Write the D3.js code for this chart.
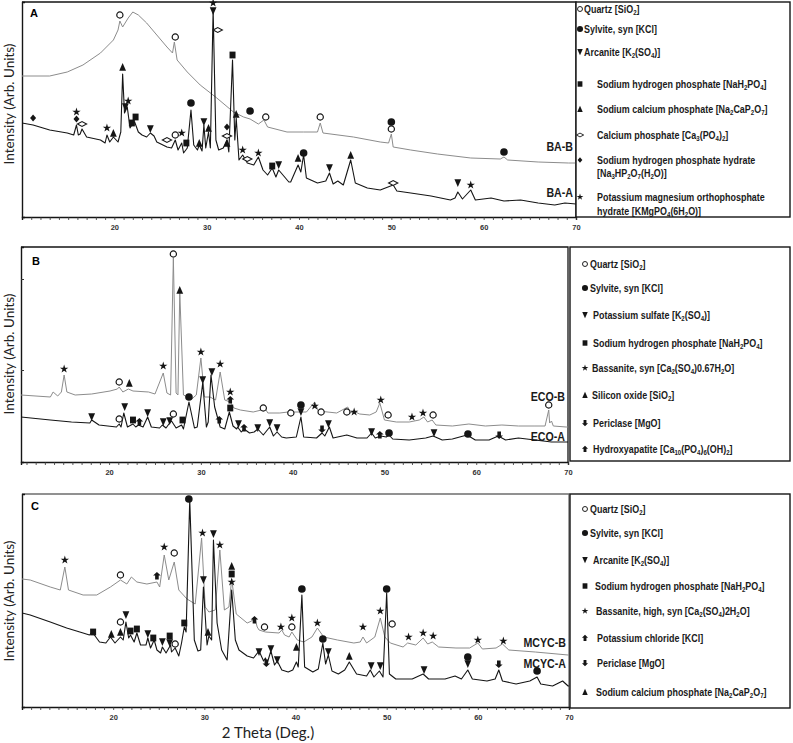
<!DOCTYPE html>
<html>
<head>
<meta charset="utf-8">
<script src="https://cdn.jsdelivr.net/npm/d3@7"></script>
<style>
  body { margin: 0; background: #fff; }
  svg { display: block; }
</style>
</head>
<body>
<div id="chart"></div>
<script>
// ---- XRD patterns, [2theta, intensity (arb. units)] ----
const baA = [[10.0,94],[11.2,92],[13.0,87],[14.9,84],[15.6,82],[15.9,92],[16.1,82],[16.3,83],[16.5,88],[17.0,80],[18.5,77],[19.0,74],[19.2,82],[19.5,75],[19.9,80],[20.4,75],[20.7,85],[20.9,143],[21.1,104],[21.4,110],[21.7,89],[21.9,92],[22.2,95],[22.6,85],[23.0,82],[23.5,80],[23.9,84],[24.3,81],[24.6,75],[25.7,70],[26.2,69],[26.6,77],[26.9,67],[27.3,74],[27.5,64],[27.9,69],[28.3,107],[28.6,72],[29.0,67],[29.2,72],[29.5,66],[29.7,92],[29.9,69],[30.2,85],[30.4,69],[30.7,207],[31.0,77],[31.3,67],[31.8,69],[32.2,77],[32.4,65],[32.8,157],[33.05,77],[33.2,99],[33.5,57],[33.9,62],[34.4,54],[35.1,52],[35.6,60],[36.1,47],[36.6,42],[37.1,49],[37.5,40],[37.8,47],[38.9,35],[39.1,35],[39.9,52],[40.2,45],[40.5,62],[40.8,39],[42.0,34],[42.9,36],[43.3,44],[43.7,33],[44.2,36],[44.8,32],[45.6,57],[46.1,34],[47.4,29],[48.8,27],[50.2,32],[50.6,26],[52.1,24],[54.3,21],[56.4,17],[56.9,19],[57.2,25],[57.7,18],[58.6,27],[59.1,17],[60.8,19],[62.2,16],[64.0,17],[65.9,14],[67.7,12],[68.8,14],[70,13]]
const baB = [[10.0,141],[13.0,141],[14.9,145],[16.6,152],[18.5,164],[19.9,177],[20.4,187],[20.6,196],[20.9,190],[21.5,199],[22.0,205],[22.6,202],[23.5,194],[24.6,182],[25.7,170],[26.3,164],[26.5,175],[26.8,157],[27.9,145],[29.3,132],[31.1,119],[32.9,105],[34.0,100],[34.7,98],[35.6,93],[36.2,97],[36.6,90],[38.7,85],[40.5,85],[42.0,85],[42.3,94],[42.6,84],[45.9,80],[48.8,75],[49.7,74],[50.0,83],[50.2,70],[52.1,67],[55.0,63],[58.6,59],[61.8,58],[62.2,60],[62.6,57],[65.9,55],[69.2,54],[70,54]]
const ecoA = [[10.4,45],[13.6,42],[15.9,40],[17.9,39],[18.1,42],[18.9,37],[20.8,35],[21.1,38],[21.3,35],[21.6,49],[22.0,35],[22.6,38],[22.9,35],[23.2,37],[23.7,35],[24.2,45],[24.6,35],[25.5,34],[25.8,37],[26.2,34],[26.6,39],[26.8,41],[27.3,34],[27.9,37],[28.1,33],[28.7,60],[29.3,34],[29.6,35],[30.2,79],[30.6,35],[30.8,40],[31.1,87],[31.5,55],[32.1,35],[32.6,33],[33.1,50],[33.5,36],[33.9,33],[34.0,35],[34.4,30],[34.7,33],[35.3,29],[35.8,30],[36.2,33],[36.8,27],[37.5,35],[37.9,26],[38.3,30],[38.8,25],[39.3,24],[40.4,25],[40.9,45],[41.2,25],[42.6,24],[43.2,29],[43.5,26],[44.0,35],[44.4,24],[45.9,27],[47.0,24],[48.1,24],[48.6,29],[49.0,24],[49.6,26],[50.2,25],[50.5,27],[50.9,23],[52.7,22],[54.5,24],[55.3,26],[56.3,22],[57.4,23],[59.0,27],[59.9,22],[61.4,22],[62.4,26],[63.2,22],[64.6,24],[66.4,22],[68.2,20],[69.8,20],[70,20]]
const ecoB = [[10.4,67],[13.6,65],[13.9,70],[14.4,66],[14.8,70],[15.1,87],[15.4,70],[16.3,67],[18.1,68],[20.1,71],[20.9,73],[21.1,75],[21.5,70],[22.1,73],[22.6,71],[24.3,70],[25.0,68],[25.9,89],[26.3,69],[26.7,67],[27.0,204],[27.3,69],[27.5,67],[27.7,170],[28.1,67],[29.0,63],[29.5,67],[30.0,104],[30.4,65],[31.0,65],[31.6,62],[32.1,90],[32.6,62],[33.2,60],[33.6,54],[34.3,52],[35.7,50],[36.6,52],[36.9,55],[37.3,49],[38.6,49],[39.5,50],[39.7,53],[40.0,50],[41.5,50],[42.4,60],[42.8,51],[44.8,49],[46.0,55],[46.3,49],[46.6,51],[47.3,48],[48.4,47],[49.1,50],[49.5,59],[50.0,42],[51.3,40],[52.7,40],[53.8,42],[54.3,45],[54.7,40],[55.2,42],[55.6,37],[57.4,36],[59.2,38],[61.0,36],[62.8,37],[64.6,36],[66.4,36],[67.5,36],[67.9,52],[68.0,39],[68.2,41],[68.4,36],[69.8,35],[70,35]]
const mcycA = [[10.0,94],[10.9,92],[13.1,85],[14.9,79],[16.7,74],[17.4,72],[17.7,75],[18.5,65],[19.2,64],[19.7,70],[20.2,64],[20.8,70],[21.1,67],[21.4,85],[21.7,69],[21.9,72],[22.3,65],[22.6,74],[23.0,62],[23.6,62],[23.8,69],[24.1,59],[24.5,67],[24.8,57],[25.2,54],[25.4,60],[25.8,54],[26.3,62],[26.4,55],[26.8,59],[27.2,51],[27.5,64],[27.8,80],[28.0,75],[28.4,207],[28.9,67],[29.3,56],[29.6,57],[29.9,120],[30.3,62],[30.5,71],[30.8,67],[31.0,167],[31.4,84],[31.9,57],[32.5,47],[33.0,117],[33.4,67],[33.8,57],[34.7,51],[35.4,49],[36.0,56],[36.5,46],[36.7,49],[36.9,44],[37.3,56],[37.7,42],[38.0,46],[38.5,37],[39.2,35],[39.7,37],[40.1,45],[40.3,40],[40.7,112],[41.0,40],[41.9,35],[42.5,38],[43.0,64],[43.3,43],[43.6,52],[44.0,36],[44.7,33],[45.4,37],[45.9,45],[46.7,33],[47.8,31],[48.2,37],[48.6,30],[49.2,36],[49.6,30],[50.0,114],[50.3,33],[51.0,28],[52.8,28],[54.0,33],[54.6,28],[56.4,28],[57.5,31],[58.2,28],[58.9,37],[59.4,28],[61.0,26],[61.9,28],[62.3,37],[62.7,26],[64.2,23],[65.7,26],[66.5,30],[66.9,23],[68.2,21],[69.3,26],[69.9,21],[70,21]]
const mcycB = [[10.0,128],[10.9,127],[13.1,120],[14.2,117],[14.7,140],[15.1,117],[16.7,112],[18.2,112],[19.7,120],[20.8,127],[21.5,123],[22.0,130],[22.6,125],[23.7,123],[24.8,125],[25.1,120],[25.6,152],[26.1,127],[26.7,145],[27.2,117],[28.1,108],[29.0,103],[29.7,169],[30.1,100],[30.5,95],[31.2,97],[31.7,157],[32.2,97],[32.7,100],[33.0,128],[33.5,93],[34.7,84],[35.2,86],[35.5,90],[35.8,80],[36.0,77],[36.7,75],[38.2,74],[38.5,77],[38.8,72],[39.3,70],[39.6,75],[40.2,67],[40.9,65],[41.8,70],[42.4,79],[43.1,70],[44.6,67],[46.4,64],[47.1,65],[47.4,70],[47.8,64],[48.7,70],[49.3,89],[49.8,70],[50.4,64],[51.8,60],[52.3,64],[53.2,62],[54.0,69],[54.5,63],[55.0,65],[55.7,60],[57.6,59],[59.1,59],[60.0,64],[60.5,58],[62.0,59],[62.7,63],[63.4,57],[66.3,55],[69.9,52],[70,52]]

// ---- phase markers [2theta, intensity, symbol] ----
// Q quartz, S sylvite, D down tri, U up tri, Sq square, L open lens, Di filled diamond, St star, AU arrow up, AD arrow down
const markA = [[20.6,202,"Q"],[26.6,180,"Q"],[30.7,214,"St"],[30.7,206,"D"],[31.2,187,"L"],[32.8,162,"Sq"],[20.9,150,"U"],[21.5,116,"St"],[21.2,110,"D"],[28.3,114,"S"],[34.7,106,"S"],[36.4,100,"Q"],[15.9,105,"St"],[15.9,98,"Di"],[16.5,93,"L"],[11.2,99,"Di"],[19.2,89,"St"],[19.9,84,"U"],[21.9,94,"Sq"],[22.3,100,"Sq"],[23.9,88,"D"],[25.7,77,"L"],[26.6,82,"Q"],[27.3,84,"St"],[27.8,74,"Sq"],[29.2,74,"U"],[29.7,95,"D"],[30.2,89,"U"],[33.2,103,"U"],[32.2,90,"Di"],[32.2,81,"L"],[32.2,74,"U"],[33.9,67,"St"],[34.4,58,"L"],[35.6,64,"St"],[37.1,51,"Sq"],[37.8,52,"D"],[42.3,100,"Q"],[50.0,95,"S"],[50.0,88,"Q"],[62.2,65,"S"],[39.9,59,"U"],[40.5,64,"S"],[43.3,49,"D"],[45.6,62,"U"],[50.2,34,"L"],[57.2,34,"D"],[58.6,32,"St"]]
const markB = [[15.1,93,"St"],[21.1,80,"Q"],[22.2,79,"U"],[25.9,96,"St"],[27.0,208,"Q"],[27.7,172,"U"],[30.0,110,"St"],[32.1,98,"St"],[31.2,90,"D"],[30.2,82,"D"],[28.7,65,"S"],[33.2,70,"St"],[33.2,62,"AU"],[33.2,54,"Sq"],[36.8,54,"Q"],[39.8,49,"Q"],[18.1,45,"D"],[21.1,43,"Q"],[21.7,55,"D"],[22.6,42,"Sq"],[23.3,40,"AU"],[24.2,49,"D"],[25.9,40,"D"],[26.6,41,"D"],[27.0,48,"Q"],[28.0,42,"Sq"],[32.0,42,"AU"],[34.1,38,"D"],[34.7,34,"AU"],[36.2,34,"D"],[37.5,39,"D"],[38.3,34,"D"],[40.9,57,"S"],[40.9,50,"D"],[42.4,56,"St"],[43.1,50,"Q"],[45.9,50,"Q"],[46.7,50,"St"],[49.6,62,"St"],[50.4,47,"Q"],[53.0,45,"St"],[54.2,49,"St"],[55.3,47,"Q"],[67.9,57,"Q"],[43.2,33,"AD"],[43.9,38,"D"],[48.6,30,"D"],[49.5,27,"AU"],[50.5,29,"S"],[55.4,29,"D"],[59.1,28,"S"],[62.5,27,"AD"]]
const markC = [[14.7,147,"St"],[20.8,132,"Q"],[24.8,131,"AU"],[25.6,160,"St"],[26.7,154,"Q"],[28.3,208,"S"],[29.8,174,"St"],[31.0,173,"D"],[31.7,162,"St"],[33.0,141,"U"],[33.0,133,"Sq"],[33.0,125,"St"],[29.9,127,"D"],[30.4,75,"U"],[27.8,84,"Sq"],[26.8,63,"Q"],[26.2,71,"Sq"],[26.2,64,"D"],[25.4,65,"D"],[24.4,69,"Sq"],[23.8,73,"D"],[22.6,78,"Sq"],[21.9,76,"Sq"],[21.4,92,"D"],[20.8,75,"U"],[20.8,85,"Q"],[19.8,73,"U"],[17.8,75,"Sq"],[35.5,87,"AU"],[36.6,80,"Q"],[38.4,80,"St"],[36.0,55,"D"],[36.8,44,"AD"],[37.3,58,"D"],[38.0,47,"D"],[39.6,89,"St"],[39.6,80,"Q"],[42.4,84,"St"],[47.4,80,"St"],[49.3,96,"St"],[50.6,83,"Q"],[40.7,118,"S"],[50.0,118,"S"],[52.4,70,"St"],[54.0,74,"St"],[55.1,71,"St"],[60.0,67,"St"],[62.8,66,"St"],[40.1,60,"U"],[43.0,68,"S"],[43.6,55,"D"],[45.9,51,"U"],[48.3,41,"D"],[49.3,41,"D"],[54.1,37,"D"],[58.9,50,"S"],[58.9,43,"D"],[62.3,43,"AD"],[66.5,36,"S"]]

// ---- legends (symbol, lines of text; _{..} = subscript) ----
const legendA = [["Q",["Quartz [SiO_{2}]"]],["S",["Sylvite, syn [KCl]"]],["D",["Arcanite [K_{2}(SO_{4})]"]],["Sq",["Sodium hydrogen phosphate [NaH_{2}PO_{4}]"]],["U",["Sodium calcium phosphate [Na_{2}CaP_{2}O_{7}]"]],["L",["Calcium phosphate [Ca_{3}(PO_{4})_{2}]"]],["Di",["Sodium hydrogen phosphate hydrate","[Na_{3}HP_{2}O_{7}(H_{2}O)]"]],["St",["Potassium magnesium orthophosphate","hydrate [KMgPO_{4}(6H_{2}O)]"]]]
const legendB = [["Q",["Quartz [SiO_{2}]"]],["S",["Sylvite, syn [KCl]"]],["D",["Potassium sulfate [K_{2}(SO_{4})]"]],["Sq",["Sodium hydrogen phosphate [NaH_{2}PO_{4}]"]],["St",["Bassanite, syn [Ca_{2}(SO_{4})0.67H_{2}O]"]],["U",["Silicon oxide [SiO_{2}]"]],["AD",["Periclase [MgO]"]],["AU",["Hydroxyapatite [Ca_{10}(PO_{4})_{6}(OH)_{2}]"]]]
const legendC = [["Q",["Quartz [SiO_{2}]"]],["S",["Sylvite, syn [KCl]"]],["D",["Arcanite [K_{2}(SO_{4})]"]],["Sq",["Sodium hydrogen phosphate [NaH_{2}PO_{4}]"]],["St",["Bassanite, high, syn [Ca_{2}(SO_{4})2H_{2}O]"]],["AU",["Potassium chloride [KCl]"]],["AD",["Periclase [MgO]"]],["U",["Sodium calcium phosphate [Na_{2}CaP_{2}O_{7}]"]]]

const W = 793, H = 743
const black = "#151515", grey = "#8c8c8c"
const bold = "'Liberation Sans', Arial, sans-serif"

// panel layout in page pixels
const panels = [
  { id: "A", left: 22, right: 576, top: 2, bottom: 217, x0: 10, frame: black,
    series: [[baB, grey, "BA-B", 151], [baA, black, "BA-A", 197]], marks: markA,
    legend: legendA, lg: { left: 576, top: 2, bottom: 217, symX: 580, textX: [584,584,584,597,597,597,597,597], rows: [[9],[29],[52],[84],[109],[135],[160,173],[197,211]] },
    yTitle: 104, letter: [30, 17] },
  { id: "B", left: 21, right: 568, top: 247, bottom: 462, x0: 10.4, frame: black, yTicks: [92, 183],
    series: [[ecoB, grey, "ECO-B", 401], [ecoA, black, "ECO-A", 441]], marks: markB,
    legend: legendB, lg: { left: 570, top: 247, bottom: 461, symX: 585, textX: [590,590,593,593,592,592,593,593], rows: [[264],[288],[315],[343],[368],[395],[423],[449]] },
    yTitle: 354, letter: [32, 265] },
  { id: "C", left: 22, right: 569, top: 494, bottom: 707, x0: 10, frame: "#6e6e6e",
    series: [[mcycB, grey, "MCYC-B", 647], [mcycA, black, "MCYC-A", 668]], marks: markC,
    legend: legendC, lg: { left: 570, top: 494, bottom: 708, symX: 585, textX: [590,590,593,595,596,597,597,596], rows: [[509],[533],[560],[586],[611],[638],[663],[692]] },
    yTitle: 601, letter: [31, 510] }
]

const svg = d3.select("#chart").append("svg")
  .attr("width", W)
  .attr("height", H)
  .style("font-family", "Lato, sans-serif")

const paths = {
  D: "M-3.4,-3.8L3.4,-3.8L0,4Z",
  U: "M-3.4,3.8L3.4,3.8L0,-4Z",
  Sq: "M-3,-3.4H3V3.4H-3Z",
  L: "M-4.6,0L0,-2.4L4.6,0L0,2.4Z",
  Di: "M0,-3.4L3,0L0,3.4L-3,0Z",
  AU: "M0,-4L3.8,-0.4L1.8,-0.4L1.8,3.6L-1.8,3.6L-1.8,-0.4L-3.8,-0.4Z",
  AD: "M0,4L3.8,0.4L1.8,0.4L1.8,-3.6L-1.8,-3.6L-1.8,0.4L-3.8,0.4Z",
  St: d3.symbol(d3.symbolStar, 22)()
}

function drawSym(g, code, x, y, k) {
  const t = "translate(" + x + "," + y + ") scale(" + k + ")"
  if (code === "Q") {
    g.append("circle").attr("transform", t).attr("r", 3.1)
      .attr("fill", "#fff").attr("stroke", black).attr("stroke-width", 1.2)
  } else if (code === "S") {
    g.append("circle").attr("transform", t).attr("r", 3.8).attr("fill", black)
  } else if (code === "L") {
    g.append("path").attr("transform", t).attr("d", paths.L)
      .attr("fill", "#fff").attr("stroke", black).attr("stroke-width", 1.1)
  } else {
    g.append("path").attr("transform", t).attr("d", paths[code]).attr("fill", black)
  }
}

// bold, narrowed text with _{..} subscripts
function richText(g, str, x, y, size) {
  const t = g.append("text")
    .attr("transform", "translate(" + x + "," + y + ") scale(0.86,1)")
    .attr("font-family", bold)
    .attr("font-size", size).attr("font-weight", 700).attr("fill", "#1a1a1a")
  let sub = false
  str.split(/(_\{[^}]*\})/).filter(s => s.length).forEach(part => {
    if (part.startsWith("_{")) {
      t.append("tspan").attr("dy", sub ? 0 : 2.5).attr("font-size", size * 0.68).text(part.slice(2, -1))
      sub = true
    } else {
      t.append("tspan").attr("dy", sub ? -2.5 : 0).text(part)
      sub = false
    }
  })
}

panels.forEach(p => {
  const x = d3.scaleLinear().domain([p.x0, 70]).range([p.left, p.right])
  const y = d3.scaleLinear().domain([0, p.bottom - p.top]).range([p.bottom, p.top])
  const g = svg.append("g").classed("panel", true)

  g.append("clipPath").attr("id", "clip" + p.id)
    .append("rect").attr("x", p.left).attr("y", p.top)
    .attr("width", p.right - p.left).attr("height", p.bottom - p.top)

  // frame: top + right
  g.append("path")
    .attr("d", "M" + p.left + "," + p.top + "H" + p.right + "V" + p.bottom)
    .attr("fill", "none").attr("stroke", p.frame).attr("stroke-width", 1.3)

  // x axis with minor ticks every degree
  const ax = g.append("g")
    .attr("transform", "translate(0," + p.bottom + ")")
    .call(d3.axisBottom(x)
      .tickValues(d3.range(11, 71))
      .tickSize(3)
      .tickPadding(5)
      .tickFormat(d => d % 10 === 0 ? d : ""))
  ax.select(".domain").attr("stroke", black).attr("stroke-width", 1.4)
  ax.selectAll(".tick line").attr("stroke", "#333").attr("stroke-width", 0.8)
  ax.selectAll(".tick text").attr("font-size", 7.5).attr("font-weight", 700)
    .attr("fill", "#333").attr("font-family", bold)

  // y axis (no labels)
  const ay = g.append("g")
    .attr("transform", "translate(" + p.left + ",0)")
    .call(d3.axisLeft(y).tickValues(p.yTicks || []).tickSize(-3).tickFormat(""))
  ay.select(".domain").attr("stroke", black).attr("stroke-width", 1.4)
  ay.selectAll(".tick line").attr("stroke", "#333")

  // patterns
  const line = d3.line().x(d => x(d[0])).y(d => y(d[1]))
  p.series.forEach(s => {
    g.append("path")
      .datum(s[0])
      .attr("clip-path", "url(#clip" + p.id + ")")
      .attr("fill", "none")
      .attr("stroke", s[1])
      .attr("stroke-width", s[1] === black ? 1.1 : 1)
      .attr("stroke-linejoin", "round")
      .attr("d", line)
    g.append("text")
      .attr("transform", "translate(" + (p.right - 3) + "," + s[3] + ") scale(0.82,1)")
      .attr("text-anchor", "end")
      .attr("font-family", bold)
      .attr("font-size", 13).attr("font-weight", 700).attr("fill", "#1a1a1a")
      .text(s[2])
  })

  // phase markers
  p.marks.forEach(m => drawSym(g, m[2], x(m[0]), y(m[1]), 1))

  // panel letter
  g.append("text").attr("x", p.letter[0]).attr("y", p.letter[1])
    .attr("font-size", 11).attr("font-weight", 700)
    .attr("font-family", bold).text(p.id)

  // y title
  g.append("text")
    .attr("transform", "translate(14," + p.yTitle + ") rotate(-90)")
    .attr("text-anchor", "middle")
    .attr("font-size", 13.5).attr("fill", "#222")
    .text("Intensity (Arb. Units)")

  // legend box
  const lg = p.lg
  g.append("rect")
    .attr("x", lg.left).attr("y", lg.top)
    .attr("width", 790 - lg.left).attr("height", lg.bottom - lg.top)
    .attr("fill", "#fff").attr("stroke", black).attr("stroke-width", 1.4)
  p.legend.forEach((item, i) => {
    const rows = lg.rows[i]
    drawSym(g, item[0], lg.symX, rows[0], 0.8)
    item[1].forEach((txt, j) => richText(g, txt, lg.textX[i], rows[j] + 3.6, 10.4))
  })
})

// x title
svg.append("text")
  .attr("x", 268).attr("y", 738)
  .attr("text-anchor", "middle")
  .attr("font-size", 15).attr("fill", "#222")
  .text("2 Theta (Deg.)")
</script>
</body>
</html>
